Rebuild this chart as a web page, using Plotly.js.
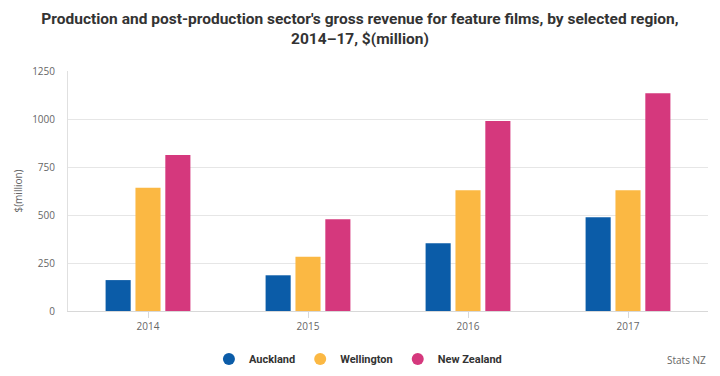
<!DOCTYPE html>
<html><head><meta charset="utf-8">
<script src="https://cdn.plot.ly/plotly-3.0.1.min.js"></script>
<style>html,body{margin:0;padding:0;background:#fff;}#chart{width:720px;height:376px;}</style>
</head><body><div id="chart"></div>
<script>
var years = ["2014", "2015", "2016", "2017"];
var auckland = [161, 186, 353, 488];
var wellington = [642, 283, 629, 629];
var newZealand = [812, 478, 990, 1134];
var seriesNames = ["Auckland", "Wellington", "New Zealand"];
var colors = ["#0b5ca8", "#fbb843", "#d5387d"];
var yTicks = [0, 250, 500, 750, 1000, 1250];

var series = [auckland, wellington, newZealand];
var data = [];
series.forEach(function(vals, i){
  data.push({type:"bar", x: years, y: vals, name: seriesNames[i], marker:{color: colors[i]}, showlegend:false, hoverinfo:"x+y"});
});
series.forEach(function(vals, i){
  data.push({type:"scatter", mode:"markers", x:[null], y:[null], name: seriesNames[i], marker:{color: colors[i], size:12, symbol:"circle"}, showlegend:true});
});

var layout = {
  width:720, height:376,
  margin:{l:68, r:12, t:71, b:65, autoexpand:false},
  paper_bgcolor:"#fff", plot_bgcolor:"#fff",
  font:{family:"Open Sans, Roboto, sans-serif", color:"#666", size:10},
  title:{text:"<b>Production and post-production sector's gross revenue for feature films, by selected region,<br>2014–17, $(million)</b>", x:0.5, xanchor:"center", yref:"container", y:1-24/376, yanchor:"middle", font:{family:"Roboto, Open Sans, sans-serif", size:15.5, color:"#333"}},
  barmode:"group", bargap:0.44, bargroupgap:0.16,
  xaxis:{type:"category", showgrid:false, showline:true, linecolor:"#d8d8d8", ticks:"outside", ticklen:6, tickcolor:"#d8d8d8", tickfont:{size:10, color:"#666"}, fixedrange:true},
  yaxis:{range:[0,1250], tickvals:yTicks, ticktext:yTicks.map(String), showgrid:true, gridcolor:"#e6e6e6", showline:true, linecolor:"#e0e0e0", zeroline:false, tickfont:{size:10, color:"#666"}, ticklabelstandoff:10,
    title:{text:"$(million)", font:{size:10, color:"#666"}, standoff:7}},
  legend:{orientation:"h", x:0.453, xanchor:"center", yref:"container", y:1-359/376, yanchor:"middle", font:{family:"Roboto, Open Sans, sans-serif", size:11, color:"#333", weight:"bold"}, itemwidth:30},
  annotations:[{text:"Stats NZ", xref:"paper", yref:"paper", x:1, xanchor:"right", y:-0.204, yanchor:"middle", showarrow:false, font:{size:10, color:"#666"}}]
};
Plotly.newPlot("chart", data, layout, {displayModeBar:false, staticPlot:true});
</script></body></html>
